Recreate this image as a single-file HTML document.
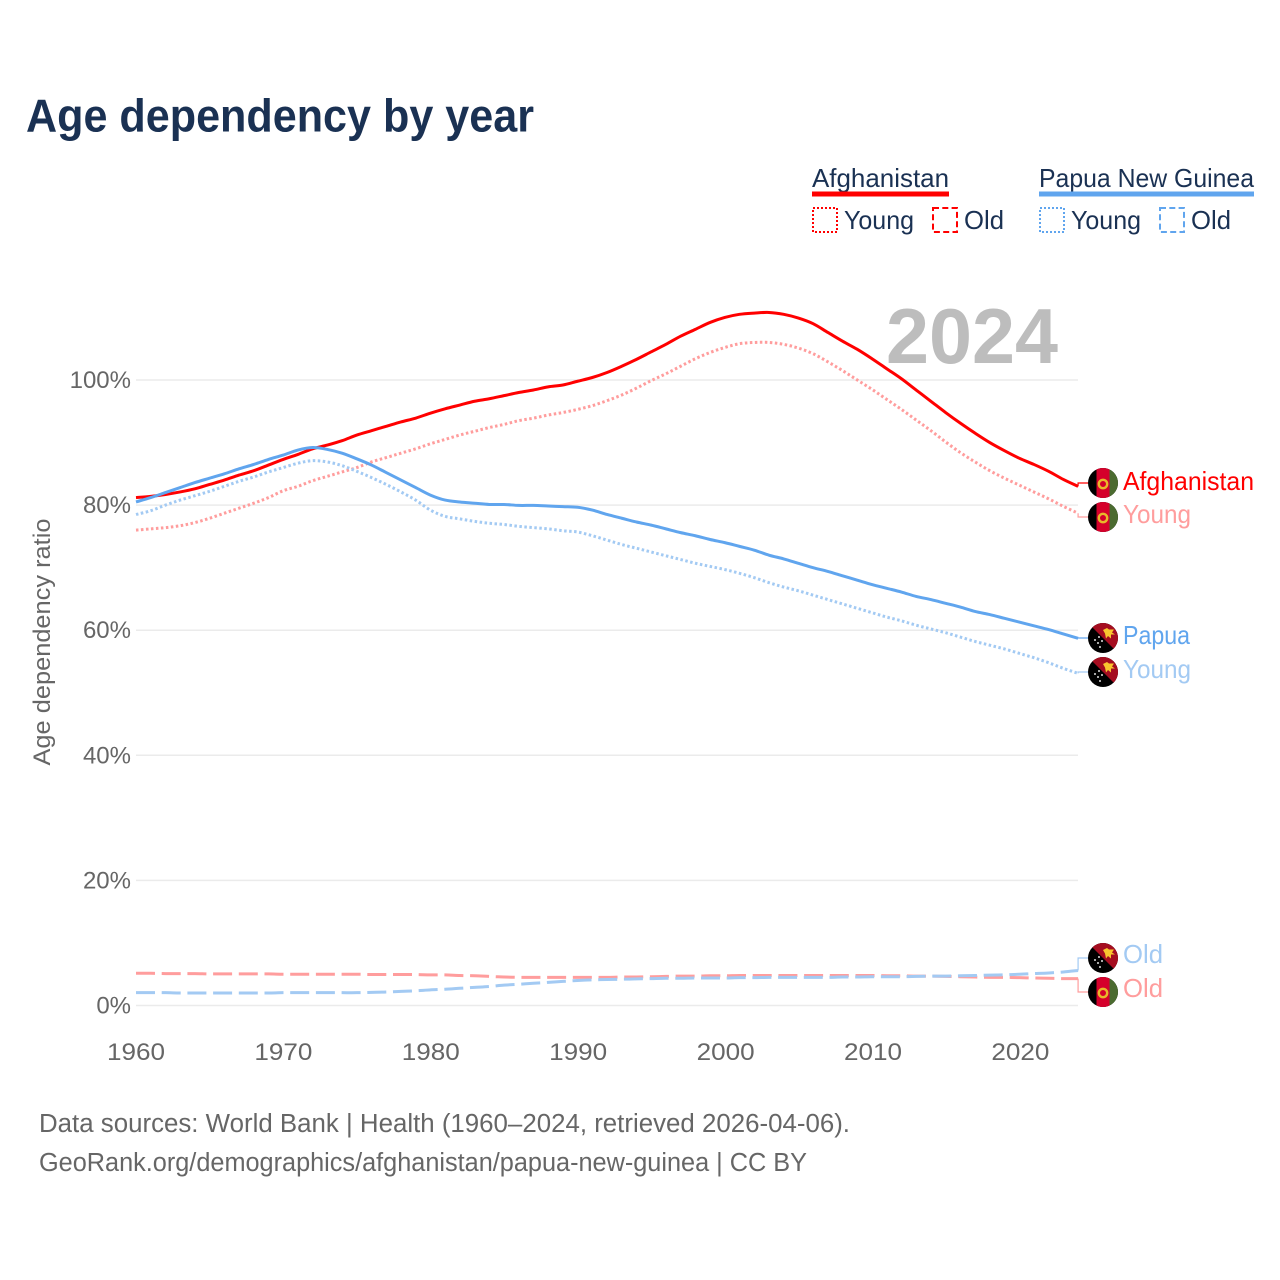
<!DOCTYPE html>
<html lang="en">
<head>
<meta charset="utf-8">
<title>Age dependency by year</title>
<style>
html,body{margin:0;padding:0;background:#fff;}
svg{display:block;font-family:"Liberation Sans",sans-serif;}
.tick{font-size:24px;fill:#666;}
.leg{font-size:26px;fill:#1a3153;}
.foot{font-size:25.5px;fill:#666;}
.lab{font-size:26px;}
</style>
</head>
<body>
<svg id="chart" width="1280" height="1280" viewBox="0 0 1280 1280" xmlns="http://www.w3.org/2000/svg">
<defs>
<clipPath id="fc"><circle cx="0" cy="0" r="15"/></clipPath>
<g id="flag-af" clip-path="url(#fc)">
<rect x="-15" y="-15" width="30" height="30" fill="#000"/>
<rect x="-6.5" y="-15" width="13" height="30" fill="#d5002b"/>
<rect x="6.5" y="-15" width="9" height="30" fill="#4b6b30"/>
<circle cx="0" cy="1" r="4.2" fill="none" stroke="#e8b82a" stroke-width="2.4"/>
</g>
<g id="flag-pg" clip-path="url(#fc)">
<rect x="-15" y="-15" width="30" height="30" fill="#000"/>
<path d="M-15,-15H15V15Z" fill="#a50d20"/>
<path d="M0,-8l4,-2l2,1.500l5,0l-2,3l3,2l-4,0l0,4l-3,-2.500l-2,2.500l-1,-5z" fill="#f9c62f"/>
<circle cx="-8" cy="2" r="1" fill="#ddd"/><circle cx="-4" cy="-1" r="1" fill="#ddd"/>
<circle cx="-5" cy="5" r="1" fill="#ddd"/><circle cx="-1" cy="3" r="1" fill="#ddd"/>
<circle cx="-3" cy="9" r="1" fill="#ddd"/>
</g>
</defs>

<text x="26" y="131.500" font-size="46" font-weight="700" fill="#1a3153" textLength="508" lengthAdjust="spacingAndGlyphs">Age dependency by year</text>

<g>
<text class="leg" x="812" y="187" textLength="137" lengthAdjust="spacingAndGlyphs">Afghanistan</text>
<rect x="812" y="191.5" width="137" height="5" fill="#ff0000"/>
<rect x="813" y="208" width="24" height="24" fill="none" stroke="#ff0000" stroke-width="2" stroke-dasharray="2 2"/>
<text class="leg" x="844" y="229" textLength="70" lengthAdjust="spacingAndGlyphs">Young</text>
<rect x="933" y="208" width="24" height="24" fill="none" stroke="#ff0000" stroke-width="2" stroke-dasharray="6 3.3"/>
<text class="leg" x="964" y="229" textLength="40" lengthAdjust="spacingAndGlyphs">Old</text>

<text class="leg" x="1039" y="187" textLength="215" lengthAdjust="spacingAndGlyphs">Papua New Guinea</text>
<rect x="1039" y="191.5" width="215" height="5" fill="#60a5ee"/>
<rect x="1040" y="208" width="24" height="24" fill="none" stroke="#60a5ee" stroke-width="2" stroke-dasharray="2 2"/>
<text class="leg" x="1071" y="229" textLength="70" lengthAdjust="spacingAndGlyphs">Young</text>
<rect x="1160" y="208" width="24" height="24" fill="none" stroke="#60a5ee" stroke-width="2" stroke-dasharray="6 3.3"/>
<text class="leg" x="1191" y="229" textLength="40" lengthAdjust="spacingAndGlyphs">Old</text>
</g>

<g id="grid"></g>
<g id="yticks"></g>
<g id="xticks"></g>

<text transform="translate(50,642) rotate(-90)" text-anchor="middle" font-size="24" fill="#666" textLength="247" lengthAdjust="spacingAndGlyphs">Age dependency ratio</text>

<text x="886" y="363" font-size="78" font-weight="700" fill="#bdbdbd" textLength="172" lengthAdjust="spacingAndGlyphs">2024</text>

<g id="series"></g>

<g>
<use href="#flag-af" x="1103" y="483"/>
<text class="lab" x="1123" y="490" fill="#ff0000" textLength="131" lengthAdjust="spacingAndGlyphs">Afghanistan</text>
<use href="#flag-af" x="1103" y="517"/>
<text class="lab" x="1123" y="523" fill="#ff9d9d" textLength="68" lengthAdjust="spacingAndGlyphs">Young</text>
<use href="#flag-pg" x="1103" y="638"/>
<text class="lab" x="1123" y="644" fill="#60a5ee" textLength="67" lengthAdjust="spacingAndGlyphs">Papua</text>
<use href="#flag-pg" x="1103" y="672"/>
<text class="lab" x="1123" y="678" fill="#a3caf3" textLength="68" lengthAdjust="spacingAndGlyphs">Young</text>
<use href="#flag-pg" x="1103" y="958"/>
<text class="lab" x="1123" y="963" fill="#a3caf3" textLength="40" lengthAdjust="spacingAndGlyphs">Old</text>
<use href="#flag-af" x="1103" y="992"/>
<text class="lab" x="1123" y="997" fill="#ff9d9d" textLength="40" lengthAdjust="spacingAndGlyphs">Old</text>
</g>

<text class="foot" x="39" y="1132" textLength="811" lengthAdjust="spacingAndGlyphs">Data sources: World Bank | Health (1960–2024, retrieved 2026-04-06).</text>
<a><text class="foot" x="39" y="1171" textLength="768" lengthAdjust="spacingAndGlyphs">GeoRank.org/demographics/afghanistan/papua-new-guinea | CC BY</text></a>
</svg>

<script>
var startYear = 1960;
var xTickYears = [1960, 1970, 1980, 1990, 2000, 2010, 2020];
var yTickValues = [0, 20, 40, 60, 80, 100];

var afghanistanTotal = [
81.2,81.4,81.7,82.1,82.6,83.3,84.0,84.8,85.5,86.4,
87.3,88.1,89.0,89.6,90.3,91.2,91.9,92.6,93.3,93.9,
94.7,95.4,96.0,96.6,97.0,97.5,98.0,98.4,98.9,99.2,
99.8,100.4,101.2,102.2,103.3,104.5,105.7,107.0,108.1,109.2,
110.0,110.5,110.7,110.8,110.5,109.9,109.0,107.6,106.2,104.9,
103.4,101.8,100.2,98.4,96.6,94.8,93.1,91.5,90.0,88.7,
87.5,86.5,85.4,84.1,83.0];
var afghanistanYoung = [
76.0,76.2,76.4,76.7,77.2,77.9,78.7,79.5,80.3,81.2,
82.3,83.0,83.9,84.6,85.3,86.0,86.9,87.6,88.3,89.0,
89.8,90.5,91.2,91.8,92.4,92.9,93.5,93.9,94.4,94.8,
95.3,95.9,96.7,97.6,98.7,99.9,101.0,102.2,103.4,104.4,
105.2,105.8,106.0,106.0,105.7,105.1,104.2,102.9,101.5,100.0,
98.5,96.9,95.3,93.6,91.9,90.1,88.4,86.9,85.5,84.3,
83.2,82.1,81.0,79.8,78.7];
var afghanistanOld = [
5.15,5.15,5.1,5.1,5.1,5.05,5.05,5.05,5.05,5.05,
5.0,5.0,5.0,5.0,5.0,5.0,4.95,4.95,4.95,4.95,
4.9,4.9,4.8,4.75,4.65,4.55,4.5,4.5,4.5,4.5,
4.5,4.5,4.5,4.55,4.55,4.6,4.65,4.7,4.7,4.75,
4.75,4.8,4.8,4.8,4.8,4.8,4.8,4.8,4.8,4.8,
4.8,4.75,4.75,4.7,4.7,4.65,4.6,4.55,4.5,4.5,
4.45,4.4,4.35,4.3,4.3];
var papuaTotal = [
80.5,81.2,82.0,82.8,83.6,84.3,85.0,85.8,86.5,87.3,
88.0,88.8,89.2,88.9,88.3,87.4,86.4,85.2,84.0,82.8,
81.6,80.8,80.5,80.3,80.1,80.1,79.95,79.95,79.85,79.75,
79.65,79.2,78.5,77.9,77.3,76.8,76.2,75.6,75.1,74.5,
74.0,73.4,72.8,72.0,71.4,70.7,70.0,69.4,68.7,68.0,
67.3,66.7,66.1,65.4,64.9,64.3,63.7,63.0,62.5,61.9,
61.3,60.7,60.1,59.4,58.7];
var papuaYoung = [
78.5,79.1,80.0,80.8,81.5,82.2,83.0,83.8,84.5,85.3,
86.0,86.7,87.1,86.9,86.3,85.4,84.4,83.3,82.1,80.8,
79.2,78.2,77.8,77.4,77.1,76.9,76.6,76.4,76.2,75.9,
75.7,75.1,74.4,73.7,73.1,72.5,71.9,71.3,70.7,70.2,
69.7,69.1,68.4,67.6,66.9,66.3,65.6,64.9,64.2,63.5,
62.8,62.1,61.5,60.8,60.2,59.6,58.9,58.2,57.6,57.0,
56.3,55.6,54.8,53.9,53.1];
var papuaOld = [
2.05,2.05,2.05,2.0,2.0,2.0,2.0,2.0,2.0,2.0,
2.05,2.05,2.05,2.05,2.05,2.05,2.1,2.15,2.25,2.35,
2.5,2.6,2.75,2.9,3.05,3.25,3.4,3.55,3.7,3.85,
4.0,4.1,4.15,4.2,4.25,4.3,4.35,4.35,4.4,4.4,
4.4,4.45,4.45,4.5,4.5,4.5,4.5,4.5,4.55,4.55,
4.6,4.6,4.6,4.65,4.7,4.7,4.75,4.8,4.85,4.9,
5.0,5.1,5.2,5.35,5.6];

var NS = 'http://www.w3.org/2000/svg';
function xScale(year) { return 136 + (year - 1960) * 14.72; }
function xTickScale(year) { return 136 + (year - 1960) * 14.74; }
function yScale(v) { return 1005.5 - v * 6.255; }

var grid = document.getElementById('grid');
var yticks = document.getElementById('yticks');
yTickValues.forEach(function (v) {
  var ln = document.createElementNS(NS, 'line');
  
  
  ln.setAttribute('x1', 136);
  ln.setAttribute('x2', 1078);
  ln.setAttribute('y1', yScale(v));
  ln.setAttribute('y2', yScale(v));
  ln.setAttribute('stroke', '#ebebeb');
  ln.setAttribute('stroke-width', '1.5');
  grid.appendChild(ln);
  var t = document.createElementNS(NS, 'text');
  
  
  t.setAttribute('class', 'tick');
  t.setAttribute('x', 131);
  t.setAttribute('y', yScale(v) + 8);
  t.setAttribute('text-anchor', 'end');
  t.textContent = v + '%';
  yticks.appendChild(t);
});

var xticks = document.getElementById('xticks');
xTickYears.forEach(function (yr) {
  var t = document.createElementNS(NS, 'text');
  
  
  t.setAttribute('class', 'tick');
  t.setAttribute('x', xTickScale(yr));
  t.setAttribute('y', 1060);
  t.setAttribute('text-anchor', 'middle');
  t.setAttribute('textLength', '58');
  t.setAttribute('lengthAdjust', 'spacingAndGlyphs');
  t.textContent = yr;
  xticks.appendChild(t);
});

var seriesGroup = document.getElementById('series');
function smoothPath(values) {
  var pts = values.map(function (v, i) { return [xScale(startYear + i), yScale(v)]; });
  var d = 'M' + pts[0][0].toFixed(2) + ',' + pts[0][1].toFixed(2);
  for (var i = 0; i < pts.length - 1; i++) {
    var p0 = pts[Math.max(i - 1, 0)];
    var p1 = pts[i];
    var p2 = pts[i + 1];
    var p3 = pts[Math.min(i + 2, pts.length - 1)];
    d += 'C' + (p1[0] + (p2[0] - p0[0]) / 6).toFixed(2) + ',' + (p1[1] + (p2[1] - p0[1]) / 6).toFixed(2) +
         ' ' + (p2[0] - (p3[0] - p1[0]) / 6).toFixed(2) + ',' + (p2[1] - (p3[1] - p1[1]) / 6).toFixed(2) +
         ' ' + p2[0].toFixed(2) + ',' + p2[1].toFixed(2);
  }
  return d;
}
function drawSeries(values, color, dash, name, labelY) {
  var p = document.createElementNS(NS, 'path');
  
  
  p.setAttribute('d', smoothPath(values));
  p.setAttribute('fill', 'none');
  p.setAttribute('stroke', color);
  p.setAttribute('stroke-width', '3');
  p.setAttribute('stroke-linejoin', 'round');
  if (dash) { p.setAttribute('stroke-dasharray', dash); }
  seriesGroup.appendChild(p);
  var endX = xScale(startYear + values.length - 1);
  var endY = yScale(values[values.length - 1]);
  var c = document.createElementNS(NS, 'path');
  
  
  c.setAttribute('d', 'M' + endX + ',' + endY + 'L' + endX + ',' + labelY + 'L1089,' + labelY);
  c.setAttribute('fill', 'none');
  c.setAttribute('stroke', color);
  c.setAttribute('stroke-width', '1.2');
  seriesGroup.appendChild(c);
}
var dotted = '2.5 2.5';
var dashed = '19 6.7';
drawSeries(afghanistanOld, '#ff9d9d', dashed, 'line-afghanistan-old', 992);
drawSeries(papuaOld, '#a3caf3', dashed, 'line-papua-old', 958);
drawSeries(afghanistanYoung, '#ff9d9d', dotted, 'line-afghanistan-young', 517);
drawSeries(papuaYoung, '#a3caf3', dotted, 'line-papua-young', 672);
drawSeries(afghanistanTotal, '#ff0000', '', 'line-afghanistan-total', 483);
drawSeries(papuaTotal, '#60a5ee', '', 'line-papua-total', 638);
</script>
</body>
</html>
